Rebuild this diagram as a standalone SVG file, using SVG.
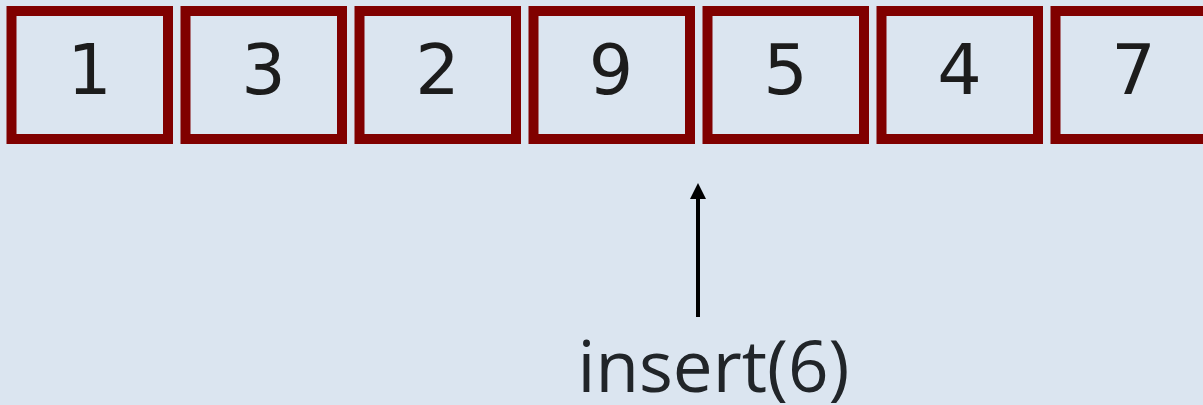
<svg xmlns="http://www.w3.org/2000/svg" width="1203" height="405" viewBox="0 0 1203 405">
<style>
.box{fill:#dbe5f0;stroke:#800000;stroke-width:10}
.num{font-family:"DejaVu Sans",sans-serif;font-size:70px;fill:#1c1c1c;text-anchor:middle}
.lbl{font-family:"Open Sans",sans-serif;font-size:71px;fill:#212529;text-anchor:middle}
</style>
<defs>
<marker id="ah" markerWidth="4" markerHeight="4" refX="2" refY="2" orient="auto" markerUnits="strokeWidth">
<path d="M0,0 L4,2 L0,4 Z" fill="#000"/>
</marker>
</defs>
<rect width="1203" height="405" fill="#dbe5f0"/>
<g id="n1"><rect class="box" x="11.5" y="11" width="156.5" height="128"/><text class="num" x="89.5" y="94">1</text></g>
<g id="n2"><rect class="box" x="185.5" y="11" width="156.5" height="128"/><text class="num" x="263.5" y="94">3</text></g>
<g id="n3"><rect class="box" x="359.5" y="11" width="156.5" height="128"/><text class="num" x="437.5" y="94">2</text></g>
<g id="n4"><rect class="box" x="533.5" y="11" width="156.5" height="128"/><text class="num" x="611" y="94">9</text></g>
<g id="n5"><rect class="box" x="707.5" y="11" width="156.5" height="128"/><text class="num" x="785.5" y="94">5</text></g>
<g id="n6"><rect class="box" x="881.5" y="11" width="156.5" height="128"/><text class="num" x="959.5" y="94">4</text></g>
<g id="n7"><rect class="box" x="1055.5" y="11" width="156.5" height="128"/><text class="num" x="1133.5" y="94">7</text></g>
<g id="connectors">
<line x1="698" y1="317" x2="698" y2="191" stroke="#000" stroke-width="4" marker-end="url(#ah)"/>
</g>
<g id="label"><text class="lbl" x="713.5" y="392">insert(6)</text></g>
</svg>
